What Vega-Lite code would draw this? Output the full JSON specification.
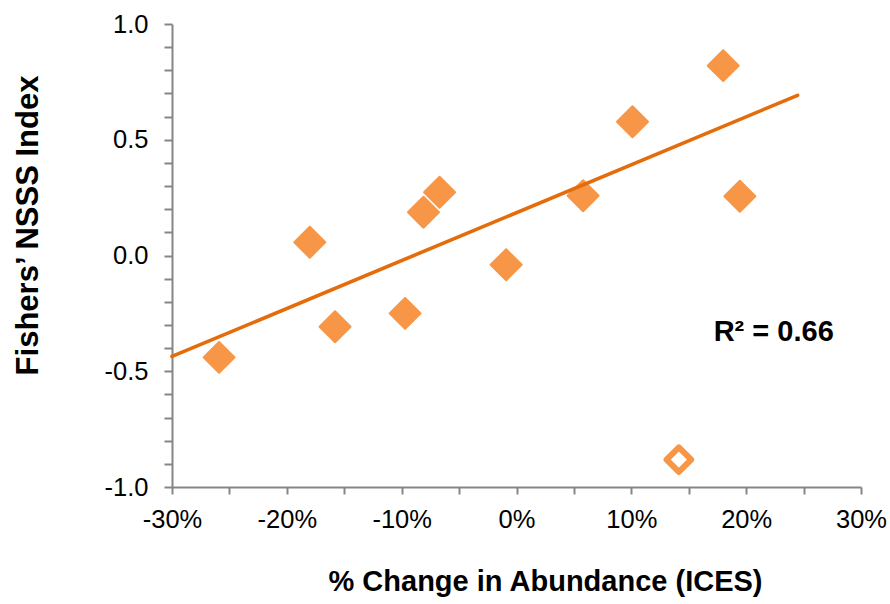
{
  "$schema": "https://vega.github.io/schema/vega-lite/v6.json",
  "width": 689,
  "height": 463,
  "autosize": {"type": "none"},
  "padding": {"left": 172, "top": 24, "right": 29, "bottom": 117},
  "background": "white",
  "config": {
    "view": {"stroke": null},
    "font": "Liberation Sans",
    "axis": {
      "grid": false,
      "domainColor": "#868686",
      "domainWidth": 2,
      "tickColor": "#868686",
      "tickWidth": 2,
      "labelColor": "#000000",
      "labelFont": "Liberation Sans",
      "labelFontSize": 25.5,
      "titleFont": "Liberation Sans",
      "titleFontWeight": "bold",
      "titleColor": "#000000",
      "labelOverlap": false,
      "labelBound": false,
      "labelFlush": false
    }
  },
  "datasets": {
    "points": [
      {"change": -25.9, "nsss": -0.44, "fit": "yes"},
      {"change": -18.0, "nsss": 0.057, "fit": "yes"},
      {"change": -15.8, "nsss": -0.308, "fit": "yes"},
      {"change": -9.7, "nsss": -0.25, "fit": "yes"},
      {"change": -8.1, "nsss": 0.187, "fit": "yes"},
      {"change": -6.7, "nsss": 0.273, "fit": "yes"},
      {"change": -0.9, "nsss": -0.04, "fit": "yes"},
      {"change": 5.8, "nsss": 0.258, "fit": "yes"},
      {"change": 10.1, "nsss": 0.578, "fit": "yes"},
      {"change": 18.0, "nsss": 0.82, "fit": "yes"},
      {"change": 19.45, "nsss": 0.256, "fit": "yes"},
      {"change": 14.14, "nsss": -0.882, "fit": "no"}
    ],
    "trend": [
      {"change": -30, "nsss": -0.436},
      {"change": 24.48, "nsss": 0.692}
    ],
    "note": [
      {"change": 22.4, "nsss": -0.369, "label": "R² = 0.66"}
    ]
  },
  "layer": [
    {
      "data": {"name": "points"},
      "transform": [{"filter": "datum.fit == 'yes'"}],
      "mark": {"type": "point", "shape": "diamond", "filled": true, "size": 960, "fill": "#F79646", "stroke": "#F79646", "strokeWidth": 2, "strokeJoin": "round", "opacity": 1},
      "encoding": {
        "x": {
          "field": "change", "type": "quantitative",
          "scale": {"domain": [-30, 30], "nice": false, "zero": false},
          "axis": {
            "title": "% Change in Abundance (ICES)",
            "titleFontSize": 29,
            "values": [-30, -25, -20, -15, -10, -5, 0, 5, 10, 15, 20, 25, 30],
            "tickCount": 100,
            "labelExpr": "datum.value % 10 == 0 ? replace(format(datum.value, 'd'), '\u2212', '-') + '%' : ''",
            "labelOverlap": false,
            "tickSize": 7,
            "labelPadding": 13,
            "titleX": 373,
            "titleY": 103,
            "titleAnchor": null,
            "titleAlign": "center",
            "titleBaseline": "alphabetic"
          }
        },
        "y": {
          "field": "nsss", "type": "quantitative",
          "scale": {"domain": [-1, 1], "nice": false, "zero": false},
          "axis": {
            "title": "Fishers’ NSSS Index",
            "titleFontSize": 31,
            "values": [-1, -0.9, -0.8, -0.7, -0.6, -0.5, -0.4, -0.3, -0.2, -0.1, 0, 0.1, 0.2, 0.3, 0.4, 0.5, 0.6, 0.7, 0.8, 0.9, 1],
            "tickCount": 100,
            "labelExpr": "abs(datum.value * 2 - round(datum.value * 2)) < 0.000001 ? replace(format(datum.value, '.1f'), '\u2212', '-') : ''",
            "labelOverlap": false,
            "tickSize": 8,
            "labelPadding": 16,
            "titleX": -144,
            "titleY": 201,
            "titleAngle": -90,
            "titleAlign": "center",
            "titleBaseline": "middle"
          }
        }
      }
    },
    {
      "data": {"name": "points"},
      "transform": [{"filter": "datum.fit == 'no'"}],
      "mark": {"type": "point", "shape": "diamond", "filled": false, "size": 605, "fill": "#FFFFFF", "stroke": "#F79646", "strokeWidth": 6, "strokeJoin": "round", "opacity": 1},
      "encoding": {
        "x": {"field": "change", "type": "quantitative"},
        "y": {"field": "nsss", "type": "quantitative"}
      }
    },
    {
      "data": {"name": "trend"},
      "mark": {"type": "line", "color": "#E46C0A", "strokeWidth": 3.6, "strokeCap": "round"},
      "encoding": {
        "x": {"field": "change", "type": "quantitative"},
        "y": {"field": "nsss", "type": "quantitative"}
      }
    },
    {
      "data": {"name": "note"},
      "mark": {"type": "text", "font": "Liberation Sans", "fontSize": 29, "fontWeight": "bold", "color": "#000000", "align": "center", "baseline": "alphabetic"},
      "encoding": {
        "x": {"field": "change", "type": "quantitative"},
        "y": {"field": "nsss", "type": "quantitative"},
        "text": {"field": "label"}
      }
    }
  ]
}
